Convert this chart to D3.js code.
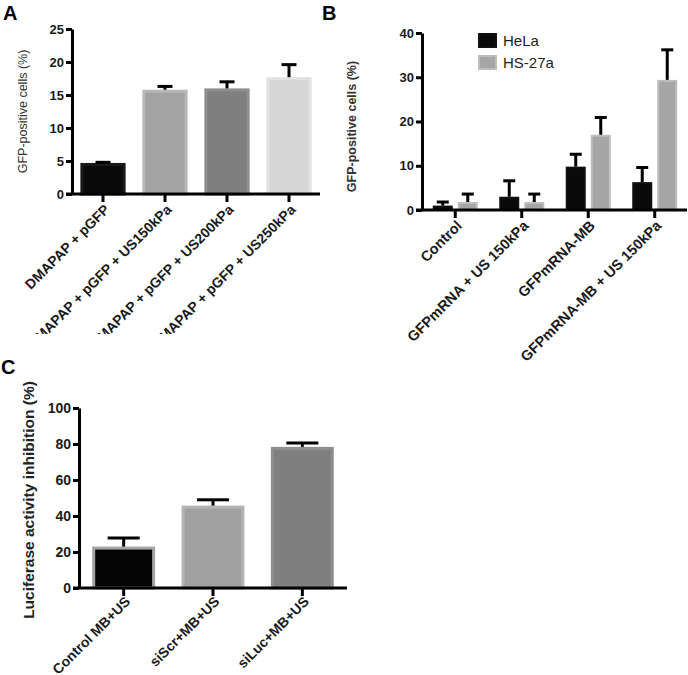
<!DOCTYPE html>
<html><head><meta charset="utf-8">
<script src="https://cdn.jsdelivr.net/npm/d3@7"></script>
<style>
body{margin:0;background:#fff;}
svg{display:block;font-family:"Liberation Sans",Arial,sans-serif;}
</style></head>
<body>
<svg id="chart" width="688" height="675"></svg>
<script>
// ---- Panel A data ----
const catsA = ["DMAPAP + pGFP","DMAPAP + pGFP + US150kPa","DMAPAP + pGFP + US200kPa","DMAPAP + pGFP + US250kPa"];
const valsA = [4.7, 15.8, 16.0, 17.7];
const errA = [0.1, 0.5, 1.0, 1.9];
const ticksA = [0,5,10,15,20,25];
const fillA = ["#0a0a0a","#a3a3a3","#7f7f7f","#d6d6d6"];
const strokeA = ["#1a1a1a","#b8b8b8","#8e8e8e","#e2e2e2"];

// ---- Panel B data ----
const catsB = ["Control","GFPmRNA + US 150kPa","GFPmRNA-MB","GFPmRNA-MB + US 150kPa"];
const seriesB = ["HeLa","HS-27a"];
const helaB = [1.0, 3.0, 9.8, 6.3];
const helaErrB = [0.8, 3.6, 2.8, 3.3];
const hsB = [1.8, 1.8, 17.0, 29.4];
const hsErrB = [1.8, 1.8, 3.9, 6.8];
const ticksB = [0,10,20,30,40];
const fillB = ["#0a0a0a","#a6a6a6"];
const strokeB = ["#111111","#bdbdbd"];

// ---- Panel C data ----
const catsC = ["Control MB+US","siScr+MB+US","siLuc+MB+US"];
const valsC = [23.0, 45.8, 78.4];
const errC = [4.8, 3.2, 2.2];
const ticksC = [0,20,40,60,80,100];
const fillC = ["#050505","#a1a1a1","#7f7f7f"];
const strokeC = ["#a3a3a3","#b4b4b4","#8e8e8e"];

const svg = d3.select("#chart");
svg.append("defs").append("clipPath").attr("id","clipA")
  .append("rect").attr("x",0).attr("y",0).attr("width",330).attr("height",334);

function axes(g, x, y, ticks, x0, x1, y0, labelSize, tickSize, clip, ly){
  const ya = g.append("g").attr("transform",`translate(${x0},0)`)
    .call(d3.axisLeft(y).tickValues(ticks).tickSize(6).tickSizeOuter(0).tickPadding(2));
  ya.select(".domain").attr("stroke","#000").attr("stroke-width",3);
  ya.selectAll(".tick line").attr("stroke","#000").attr("stroke-width",3);
  ya.selectAll(".tick text").attr("font-size",tickSize).attr("font-weight","bold").attr("fill","#1a1a1a")
    .attr("font-family","'Liberation Sans',Arial,sans-serif");
  g.append("line").attr("x1",x0-6).attr("x2",x1).attr("y1",y0).attr("y2",y0)
    .attr("stroke","#000").attr("stroke-width",3);
  const xa = g.append("g").attr("transform",`translate(0,${y0})`)
    .call(d3.axisBottom(x).tickSize(8).tickSizeOuter(0).tickFormat(""));
  xa.select(".domain").remove();
  xa.selectAll(".tick line").attr("stroke","#000").attr("stroke-width",3);
  const lg = g.append("g");
  if (clip) lg.attr("clip-path",`url(#${clip})`);
  lg.selectAll(".xl").data(x.domain()).join("text").attr("class","xl")
    .attr("transform",d=>`translate(${x(d)+x.bandwidth()/2+4},${y0+ly}) rotate(-45)`)
    .attr("text-anchor","end").attr("dy","0.35em")
    .attr("font-size",labelSize).attr("font-weight","bold").attr("fill","#1a1a1a")
    .text(d=>d);
}

function errbars(g, xs, tops, vals, y, cap){
  g.selectAll(null).data(vals).join("line")
    .attr("x1",(d,i)=>xs[i]).attr("x2",(d,i)=>xs[i])
    .attr("y1",d=>y(d)).attr("y2",(d,i)=>y(d+tops[i]))
    .attr("stroke","#000").attr("stroke-width",3);
  g.selectAll(null).data(vals).join("line")
    .attr("x1",(d,i)=>xs[i]-cap/2).attr("x2",(d,i)=>xs[i]+cap/2)
    .attr("y1",(d,i)=>y(d+tops[i])).attr("y2",(d,i)=>y(d+tops[i]))
    .attr("stroke","#000").attr("stroke-width",3);
}

// ================= Panel A =================
{
  const g = svg.append("g");
  const x0=72, x1=320, y0=194, yt=29;
  const x = d3.scaleBand().domain(catsA).range([x0,x1]).paddingInner(0.27).paddingOuter(0.135);
  const y = d3.scaleLinear().domain([0,25]).range([y0,yt]);
  g.selectAll(".bar").data(valsA).join("rect")
    .attr("x",(d,i)=>x(catsA[i])+1.5).attr("width",x.bandwidth()-3)
    .attr("y",d=>y(d)+1.5).attr("height",d=>y0-y(d)-1.5)
    .attr("fill",(d,i)=>fillA[i]).attr("stroke",(d,i)=>strokeA[i]).attr("stroke-width",3);
  errbars(g, catsA.map(c=>x(c)+x.bandwidth()/2), errA, valsA, y, 15);
  axes(g, x, y, ticksA, x0, x1, y0, 14, 13, "clipA", 13);
  g.append("text").attr("transform",`translate(27,${(y0+yt)/2}) rotate(-90)`)
    .attr("text-anchor","middle").attr("font-size",12.5).attr("fill","#333")
    .text("GFP-positive cells (%)");
  svg.append("text").attr("x",3).attr("y",20).attr("font-size",20).attr("font-weight","bold").text("A");
}

// ================= Panel B =================
{
  const g = svg.append("g");
  const x0=422, x1=687, y0=210, yt=33;
  const x = d3.scaleBand().domain(catsB).range([x0,688]).paddingInner(0.323).paddingOuter(0.1617);
  const xs = d3.scaleBand().domain(seriesB).range([0,x.bandwidth()]).paddingInner(0.2);
  const y = d3.scaleLinear().domain([0,40]).range([y0,yt]);
  const data = [helaB, hsB], errs=[helaErrB, hsErrB];
  seriesB.forEach((s,si)=>{
    g.selectAll(null).data(data[si]).join("rect")
      .attr("x",(d,i)=>x(catsB[i])+xs(s)+1).attr("width",xs.bandwidth()-2)
      .attr("y",d=>y(d)+1).attr("height",d=>y0-y(d)-1)
      .attr("fill",fillB[si]).attr("stroke",strokeB[si]).attr("stroke-width",2);
    errbars(g, catsB.map(c=>x(c)+xs(s)+xs.bandwidth()/2), errs[si], data[si], y, 12);
  });
  axes(g, x, y, ticksB, x0, x1, y0, 14.5, 13, null, 13);
  g.append("text").attr("transform",`translate(356,${(y0+yt)/2+5}) rotate(-90)`)
    .attr("text-anchor","middle").attr("font-size",12.5).attr("font-weight","bold").attr("fill","#333")
    .text("GFP-positive cells (%)");
  const lg = g.append("g");
  seriesB.forEach((s,si)=>{
    lg.append("rect").attr("x",479).attr("y",34+si*22).attr("width",17).attr("height",13)
      .attr("fill",fillB[si]).attr("stroke",strokeB[si]).attr("stroke-width",2);
    lg.append("text").attr("x",503).attr("y",46+si*22).attr("font-size",15).attr("fill","#222").text(s);
  });
  svg.append("text").attr("x",322).attr("y",20).attr("font-size",20).attr("font-weight","bold").text("B");
}

// ================= Panel C =================
{
  const g = svg.append("g");
  const x0=79, x1=347, y0=588, yt=408;
  const x = d3.scaleBand().domain(catsC).range([x0,x1]).paddingInner(0.296).paddingOuter(0.148);
  const y = d3.scaleLinear().domain([0,100]).range([y0,yt]);
  g.selectAll(".bar").data(valsC).join("rect")
    .attr("x",(d,i)=>x(catsC[i])+1.5).attr("width",x.bandwidth()-3)
    .attr("y",d=>y(d)+1.5).attr("height",d=>y0-y(d)-1.5)
    .attr("fill",(d,i)=>fillC[i]).attr("stroke",(d,i)=>strokeC[i]).attr("stroke-width",3);
  errbars(g, catsC.map(c=>x(c)+x.bandwidth()/2), errC, valsC, y, 32);
  axes(g, x, y, ticksC, x0, x1, y0, 14, 14, null, 11);
  g.append("text").attr("transform",`translate(34,${(y0+yt)/2+2}) rotate(-90)`)
    .attr("text-anchor","middle").attr("font-size",15.5).attr("font-weight","bold").attr("fill","#222")
    .text("Luciferase activity inhibition (%)");
  svg.append("text").attr("x",1).attr("y",374).attr("font-size",20).attr("font-weight","bold").text("C");
}
</script>
</body></html>
